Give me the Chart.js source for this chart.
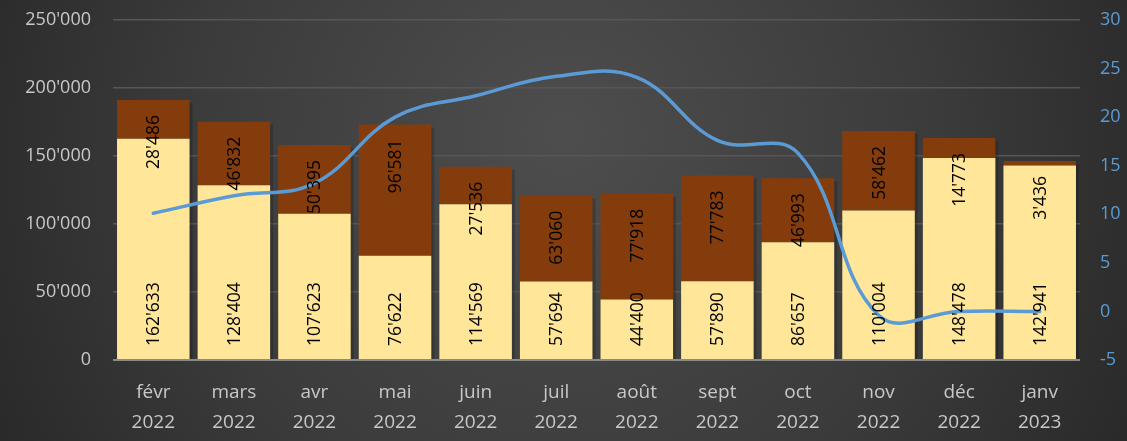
<!DOCTYPE html>
<html>
<head>
<meta charset="utf-8">
<script src="https://cdn.jsdelivr.net/npm/chart.js@4/dist/chart.umd.min.js"></script>
<style>
html,body{margin:0;padding:0;background:#2b2b2b;}
#wrap{width:1127px;height:441px;position:relative;}
</style>
</head>
<body>
<div id="wrap"><canvas id="c" width="1127" height="441"></canvas></div>
<script>
const months = ["févr","mars","avr","mai","juin","juil","août","sept","oct","nov","déc","janv"];
const years = ["2022","2022","2022","2022","2022","2022","2022","2022","2022","2022","2022","2023"];
const lightValues = [162633,128404,107623,76622,114569,57694,44400,57890,86657,110004,148478,142941];
const darkValues = [28486,46832,50395,96581,27536,63060,77918,77783,46993,58462,14773,3436];
const lineValues = [10.1,11.9,13.2,20.0,22.2,24.2,24.1,17.6,16.3,-0.4,0,0];
const leftTicks = [0,50000,100000,150000,200000,250000];
const rightTicks = [-5,0,5,10,15,20,25,30];

function fmt(v){return String(v).replace(/\B(?=(\d{3})+(?!\d))/g,"'");}

const FONT = "'Open Sans', 'Liberation Sans', sans-serif";

const bgPlugin = {
  id:'bg',
  beforeDraw(chart){
    const {ctx,width,height} = chart;
    ctx.save();
    const g = ctx.createRadialGradient(width*0.5,height*0.3,10,width*0.5,height*0.4,width*0.6);
    g.addColorStop(0,'#4d4d4d');
    g.addColorStop(0.55,'#3b3b3b');
    g.addColorStop(1,'#262626');
    ctx.fillStyle = g;
    ctx.fillRect(0,0,width,height);
    ctx.restore();
  }
};

const labelPlugin = {
  id:'barLabels',
  afterDatasetsDraw(chart){
    const ctx = chart.ctx;
    ctx.save();
    ctx.font = "17.5px " + FONT;
    ctx.fillStyle = '#000';
    ctx.textBaseline = 'middle';
    [0,1].forEach(di=>{
      const meta = chart.getDatasetMeta(di);
      const ds = chart.data.datasets[di];
      meta.data.forEach((bar,i)=>{
        const txt = fmt(ds.data[i]);
        ctx.save();
        if(di===0){
          ctx.translate(bar.x, bar.base - 13);
          ctx.rotate(-Math.PI/2);
          ctx.textAlign='left';
        } else {
          ctx.translate(bar.x, bar.y + 15);
          ctx.rotate(-Math.PI/2);
          ctx.textAlign='right';
        }
        ctx.fillText(txt,0,1);
        ctx.restore();
      });
    });
    ctx.restore();
  }
};

const shadowPlugin = {
  id:'barShadow',
  beforeDatasetsDraw(chart){
    const ctx = chart.ctx;
    ctx.save();
    ctx.fillStyle='rgba(0,0,0,0.18)';
    const m0 = chart.getDatasetMeta(0), m1 = chart.getDatasetMeta(1);
    m1.data.forEach((bar,i)=>{
      const b0 = m0.data[i];
      const w = bar.width;
      ctx.fillRect(bar.x - w/2 + 3, bar.y + 3, w, b0.base - bar.y - 3);
    });
    ctx.restore();
  }
};

function vFit(w){
  return function(s){ s.width = w; s.paddingTop = 0; s.paddingBottom = 0; };
}

new Chart(document.getElementById('c'),{
  data:{
    labels: months.map((m,i)=>[m,years[i]]),
    datasets:[
      {type:'bar',data:lightValues,backgroundColor:'#FFE699',stack:'s',yAxisID:'y',order:2,barPercentage:0.9,categoryPercentage:1},
      {type:'bar',data:darkValues,backgroundColor:'#843C0C',stack:'s',yAxisID:'y',order:2,barPercentage:0.9,categoryPercentage:1},
      {type:'line',data:lineValues,borderColor:'#5B9BD5',borderWidth:3.5,pointRadius:0,tension:0.4,yAxisID:'y1',order:1,borderCapStyle:'round'}
    ]
  },
  options:{
    responsive:false,
    animation:false,
    devicePixelRatio:1,
    layout:{padding:{top:20,left:0,right:0,bottom:0}},
    plugins:{legend:{display:false},tooltip:{enabled:false}},
    scales:{
      x:{
        stacked:true,
        grid:{display:false,drawTicks:false},
        border:{display:false},
        ticks:{color:'#c8c8c8',font:{size:19,family:FONT,lineHeight:1.55},padding:18,maxRotation:0,autoSkip:false},
        afterFit(s){s.height=81; s.paddingLeft=0; s.paddingRight=0;}
      },
      y:{
        stacked:true,
        position:'left',
        min:0,max:250000,
        afterBuildTicks(s){s.ticks = leftTicks.map(v=>({value:v}));},
        grid:{color:(c)=>c.tick && c.tick.value===0 ? '#8a8a8a' : '#565656',lineWidth:(c)=>c.tick && c.tick.value===0 ? 2 : 1.5,drawTicks:false},
        border:{display:false},
        ticks:{color:'#c8c8c8',font:{size:18,family:FONT},padding:22,callback:(v)=>fmt(v)},
        afterFit: vFit(113)
      },
      y1:{
        position:'right',
        min:-5,max:30,
        afterBuildTicks(s){s.ticks = rightTicks.map(v=>({value:v}));},
        grid:{display:false,drawTicks:false},
        border:{display:false},
        ticks:{color:'#5B9BD5',font:{size:18,family:FONT},padding:20},
        afterFit: vFit(47)
      }
    }
  },
  plugins:[bgPlugin,shadowPlugin,labelPlugin]
});
</script>
</body>
</html>
